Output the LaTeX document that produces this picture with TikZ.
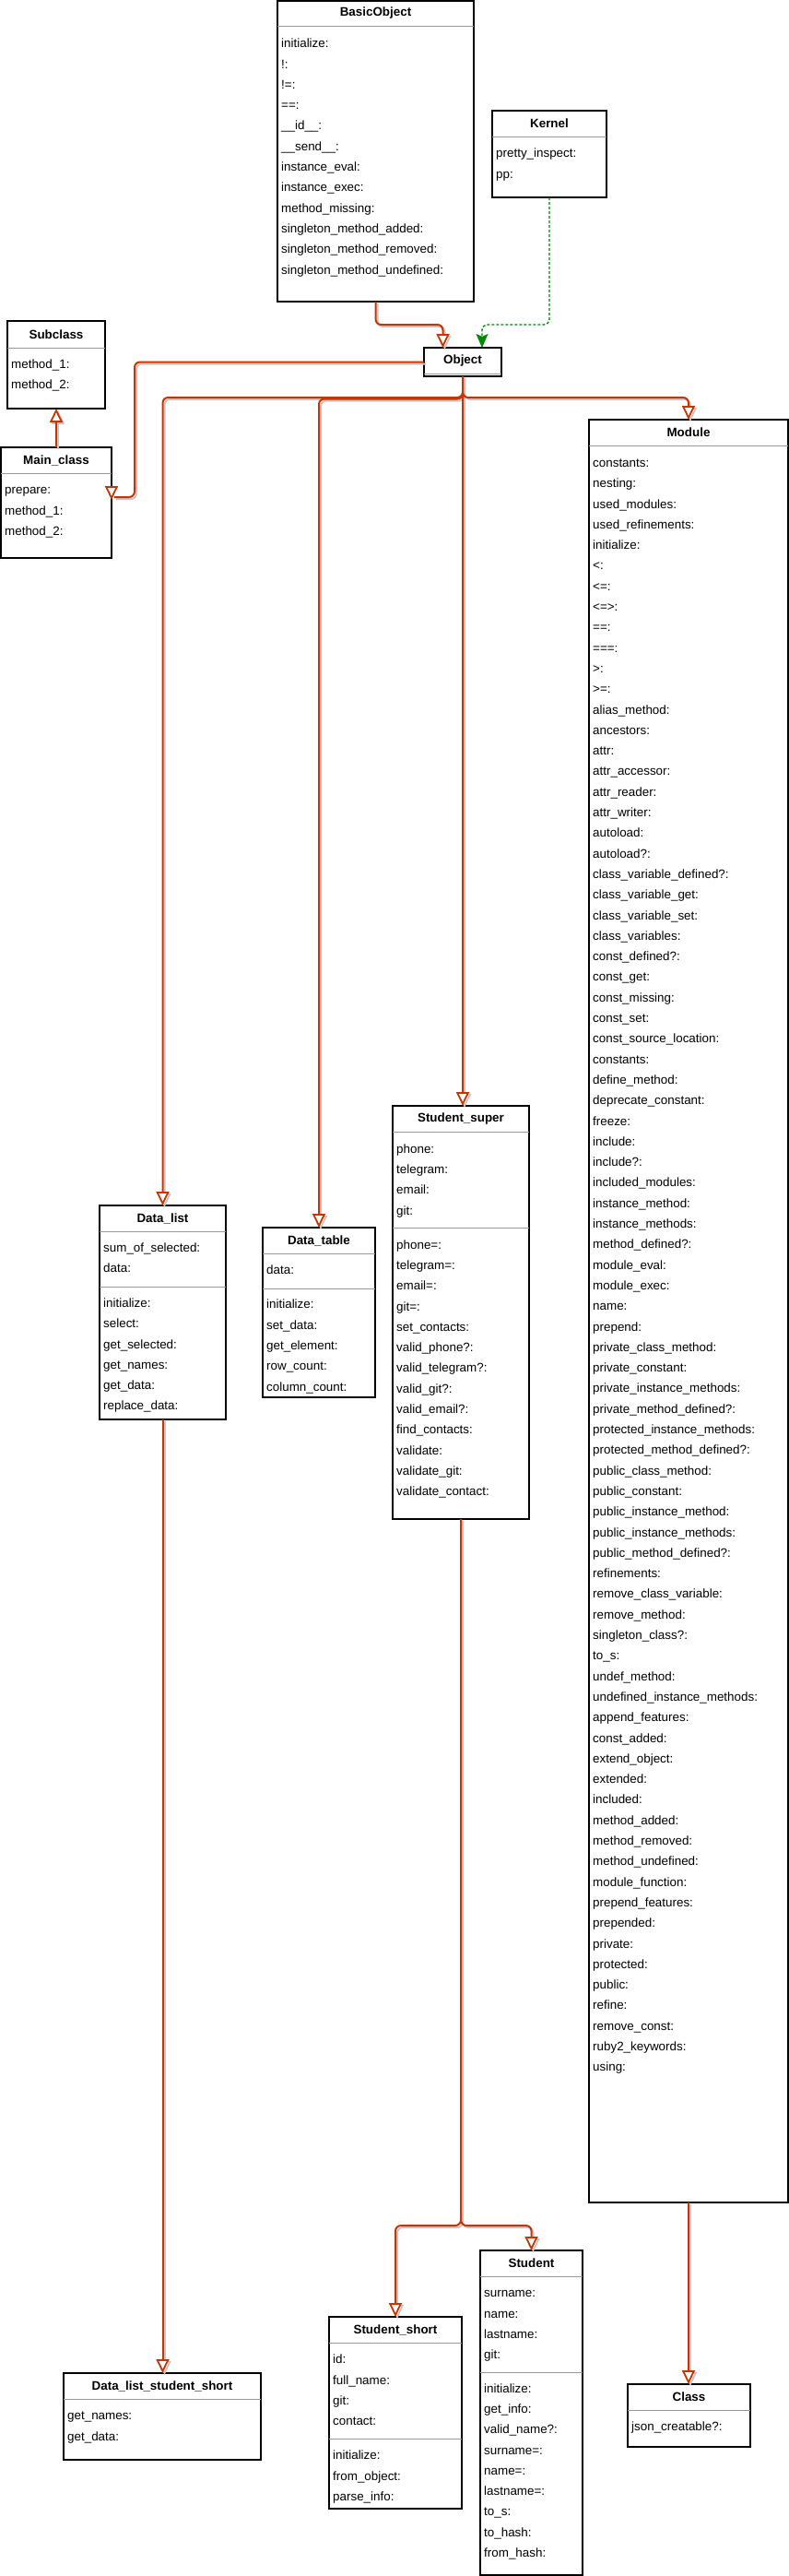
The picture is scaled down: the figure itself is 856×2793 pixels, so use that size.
\documentclass[tikz,border=0pt]{standalone}
\usepackage{fontspec}
\setmainfont{Liberation Sans}
\usetikzlibrary{arrows.meta,calc}
\definecolor{lnor}{HTML}{C73500}
\definecolor{lngr}{HTML}{008A00}
\definecolor{sepgr}{HTML}{999999}
\newcommand\UMLfont{\fontsize{13.4pt}{16pt}\selectfont}
\tikzset{
  clsbox/.style={draw=black, line width=1.3pt, fill=white, inner sep=0pt, outer sep=0pt},
  clstitle/.style={font=\UMLfont\bfseries, inner sep=0pt},
  clsitem/.style={anchor=west, font=\UMLfont, inner sep=0pt, text height=9.6pt, text depth=2.8pt},
  hsep/.style={draw=sepgr, line width=1pt},
  shadowline/.style={preaction={draw=black!22, line width=2pt, transform canvas={shift={(2pt,-2pt)}}}},
  inhline/.style={draw=lnor, line width=2pt, rounded corners=6pt, shadowline},
  inh/.style={inhline, -{Triangle[length=15pt, width=14pt, fill=white, line width=1.8pt]}},
  inhtip/.style={draw=lnor, line width=2pt, -{Triangle[length=15pt, width=14pt, fill=white, line width=1.8pt]}},
  dep/.style={draw=lngr, line width=1.3pt, dash pattern=on 3pt off 2pt, rounded corners=6pt, -{Stealth[length=15pt, width=13pt, inset=3pt]}}
}
% #1 name, #2 title, #3 x1, #4 y1, #5 x2, #6 y2, #7 header line y
\newcommand\UMLclass[7]{%
  \node[clsbox, minimum width={#5-#3}, minimum height={#6-#4}, anchor=north west] (#1) at (#3,#4) {};
  \node[clstitle] (#1-title) at ({(#3+#5)/2},{(#4+#7)/2}) {#2};
  \draw[hsep] (#3,#7) -- (#5,#7);
}
% #1 name prefix, #2 x, #3 first row y, #4 list
\newcommand\UMLitems[4]{%
  \foreach \itm [count=\k from 0] in {#4} {
    \node[clsitem] (#1-\k) at (#2,{#3+22.3*\k}) {\itm};
  }
}
\begin{document}
\begin{tikzpicture}[x=1pt,y=-1pt]
\fill[white] (0,0) rectangle (856,2793);
\useasboundingbox (0,0) rectangle (856,2793);

% BasicObject
\UMLclass{basic}{BasicObject}{301}{1}{514}{327}{28}
\UMLitems{basic-a}{305}{48.3}{initialize:,!:,!=:,==:,\_\_id\_\_:,\_\_send\_\_:,instance\_eval:,instance\_exec:,method\_missing:,singleton\_method\_added:,singleton\_method\_removed:,singleton\_method\_undefined:}

% Kernel
\UMLclass{kernel}{Kernel}{534}{120}{658}{214}{148}
\UMLitems{kernel-a}{538}{167.5}{pretty\_inspect:,pp:}

% Object
\UMLclass{object}{Object}{460}{377}{544}{408}{405}

% Subclass
\UMLclass{subclass}{Subclass}{8}{348}{114}{443}{377}
\UMLitems{subclass-a}{12}{396}{method\_1:,method\_2:}

% Main_class
\UMLclass{mainclass}{Main\_class}{1}{485}{121}{605}{513}
\UMLitems{mainclass-a}{5}{532.5}{prepare:,method\_1:,method\_2:}

% Module
\UMLclass{module}{Module}{639}{455}{855}{2388}{483}
\UMLitems{module-a}{643}{503}{constants:,nesting:,used\_modules:,used\_refinements:,initialize:,<:,<=:,<=>:,==:,===:,>:,>=:,alias\_method:,ancestors:,attr:,attr\_accessor:,attr\_reader:,attr\_writer:,autoload:,autoload?:,class\_variable\_defined?:,class\_variable\_get:,class\_variable\_set:,class\_variables:,const\_defined?:,const\_get:,const\_missing:,const\_set:,const\_source\_location:,constants:,define\_method:,deprecate\_constant:,freeze:,include:,include?:,included\_modules:,instance\_method:,instance\_methods:,method\_defined?:,module\_eval:,module\_exec:,name:,prepend:,private\_class\_method:,private\_constant:,private\_instance\_methods:,private\_method\_defined?:,protected\_instance\_methods:,protected\_method\_defined?:,public\_class\_method:,public\_constant:,public\_instance\_method:,public\_instance\_methods:,public\_method\_defined?:,refinements:,remove\_class\_variable:,remove\_method:,singleton\_class?:,to\_s:,undef\_method:,undefined\_instance\_methods:,append\_features:,const\_added:,extend\_object:,extended:,included:,method\_added:,method\_removed:,method\_undefined:,module\_function:,prepend\_features:,prepended:,private:,protected:,public:,refine:,remove\_const:,ruby2\_keywords:,using:}

% Data_list
\UMLclass{datalist}{Data\_list}{108}{1307}{245}{1539}{1335}
\UMLitems{datalist-a}{112}{1354}{sum\_of\_selected:,data:}
\draw[hsep] (108,1395) -- (245,1395);
\UMLitems{datalist-m}{112}{1414}{initialize:,select:,get\_selected:,get\_names:,get\_data:,replace\_data:}

% Data_table
\UMLclass{datatable}{Data\_table}{285}{1331}{407}{1515}{1359}
\UMLitems{datatable-a}{289}{1378}{data:}
\draw[hsep] (285,1397) -- (407,1397);
\UMLitems{datatable-m}{289}{1415.5}{initialize:,set\_data:,get\_element:,row\_count:,column\_count:}

% Student_super
\UMLclass{stsuper}{Student\_super}{426}{1199}{574}{1647}{1227}
\UMLitems{stsuper-a}{430}{1246.7}{phone:,telegram:,email:,git:}
\draw[hsep] (426,1331) -- (574,1331);
\UMLitems{stsuper-m}{430}{1350.7}{phone=:,telegram=:,email=:,git=:,set\_contacts:,valid\_phone?:,valid\_telegram?:,valid\_git?:,valid\_email?:,find\_contacts:,validate:,validate\_git:,validate\_contact:}

% Data_list_student_short
\UMLclass{dlss}{Data\_list\_student\_short}{69}{2573}{283}{2667}{2601}
\UMLitems{dlss-m}{73}{2620.5}{get\_names:,get\_data:}

% Student_short
\UMLclass{stshort}{Student\_short}{357}{2512}{501}{2720}{2540}
\UMLitems{stshort-a}{361}{2559.3}{id:,full\_name:,git:,contact:}
\draw[hsep] (357,2644) -- (501,2644);
\UMLitems{stshort-m}{361}{2663.3}{initialize:,from\_object:,parse\_info:}

% Student
\UMLclass{student}{Student}{521}{2440}{632}{2792}{2468}
\UMLitems{student-a}{525}{2487.3}{surname:,name:,lastname:,git:}
\draw[hsep] (521,2572) -- (632,2572);
\UMLitems{student-m}{525}{2590.7}{initialize:,get\_info:,valid\_name?:,surname=:,name=:,lastname=:,to\_s:,to\_hash:,from\_hash:}

% Class
\UMLclass{class}{Class}{681}{2585}{814}{2653}{2613}
\UMLitems{class-m}{685}{2632.3}{json\_creatable?:}

% ---------- connectors ----------
\draw[inh] (basic.south) -- ++(0,25) -| ($(object.north west)+(20.5,0)$);
\draw[dep] (kernel.south) -- ++(0,138) -| ($(object.north west)+(63,0)$);

\draw[inhline] (object.west) -| ($(mainclass.north east)+(25,54)$) -- ($(mainclass.north east)+(3,54)$);
\draw[inhtip] ($(mainclass.north east)+(0,42)$) -- ($(mainclass.north east)+(0,57)$);

\draw[inh] (object.south) -- ++(0,23) -| (datalist.north);
\draw[inh] (object.south) -- ++(0,24.5) -| (datatable.north);
\draw[inh] (object.south) -- (object.south |- stsuper.north);
\draw[inh] (object.south) -- ++(0,23) -| (module.north);

\draw[inh] (mainclass.north -| subclass.south) -- (subclass.south);
\draw[inh] (datalist.south) -- (datalist.south |- dlss.north);
\draw[inh] (stsuper.south) -- ++(0,766) -| (stshort.north);
\draw[inh] (stsuper.south) -- ++(0,766) -| (student.north);
\draw[inh] (module.south) -- (module.south |- class.north);
\end{tikzpicture}
\end{document}
